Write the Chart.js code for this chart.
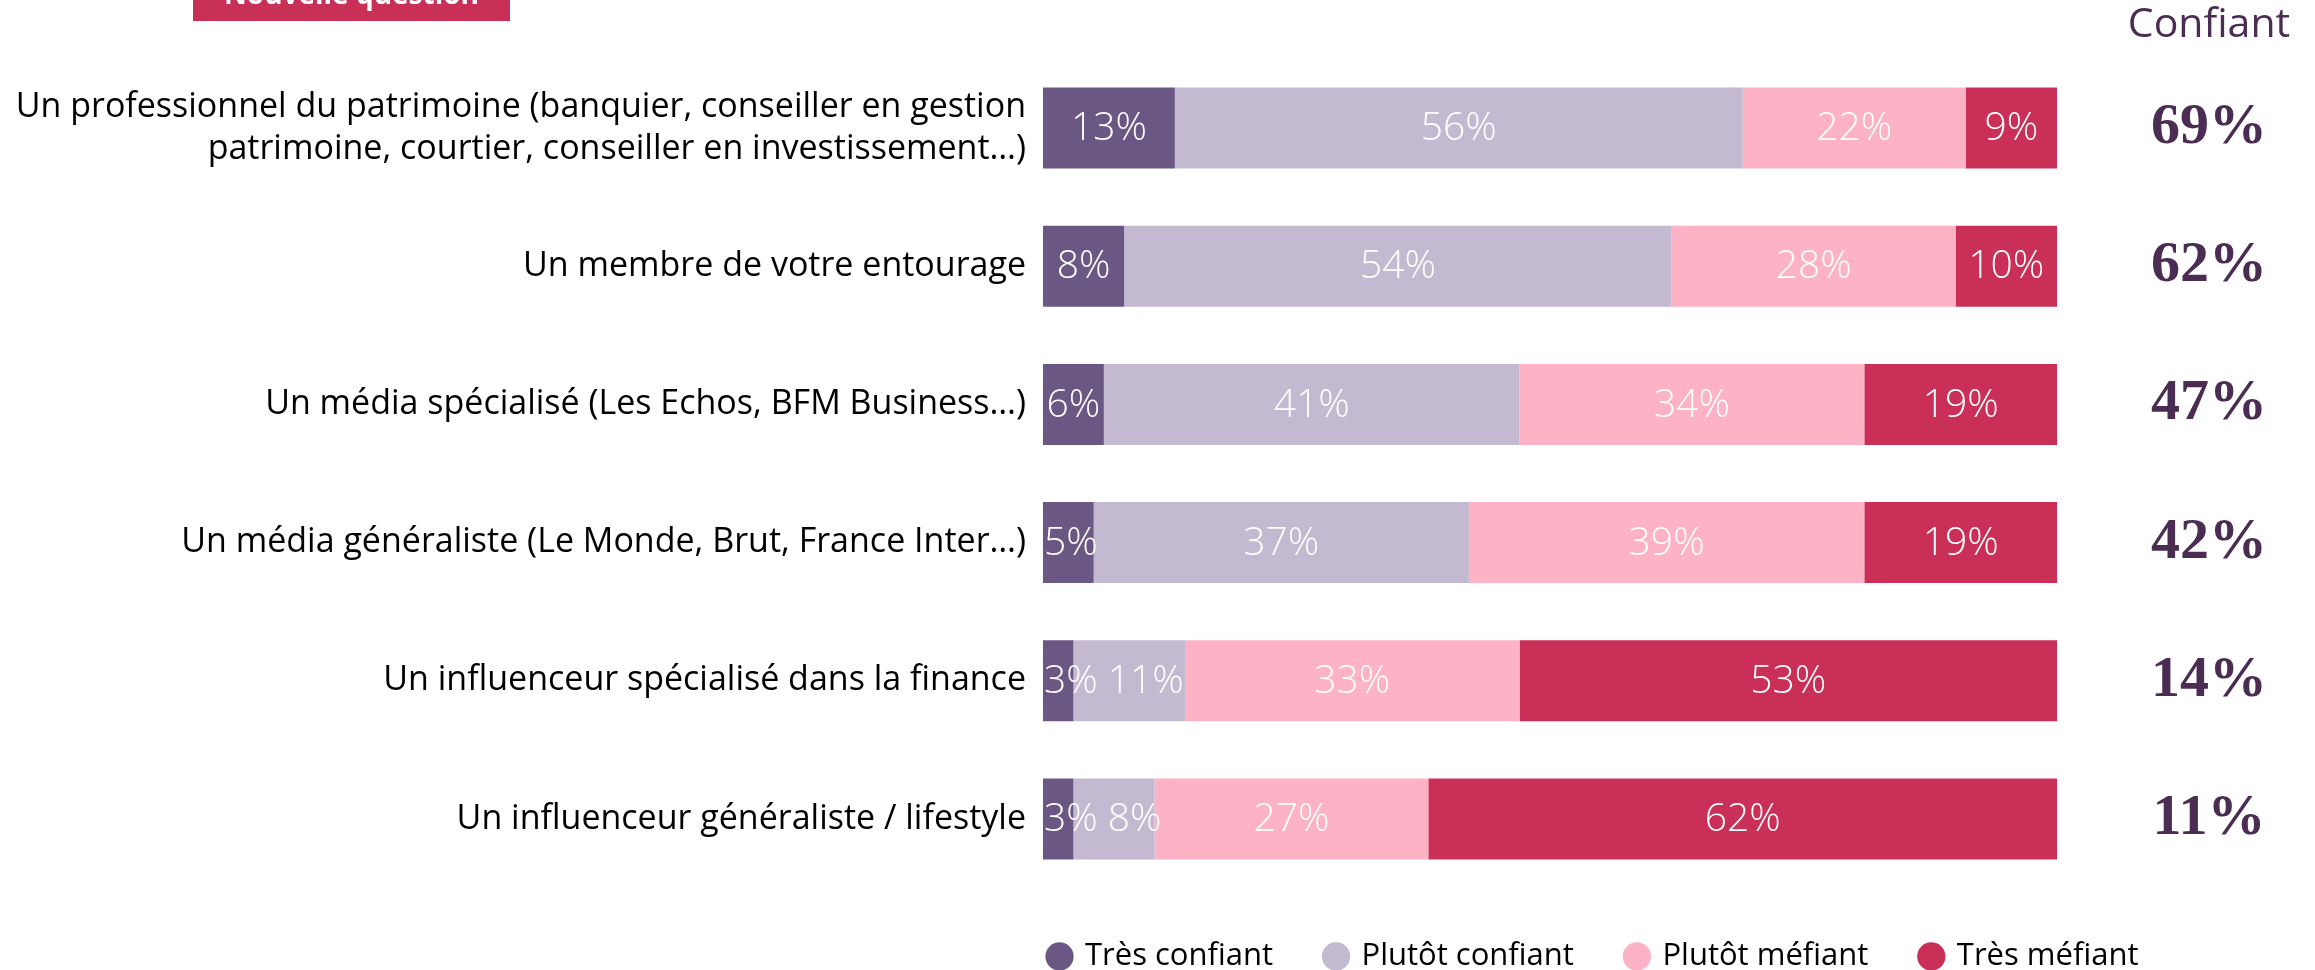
<!DOCTYPE html>
<html><head><meta charset="utf-8">
<script src="https://cdn.jsdelivr.net/npm/chart.js@4.4.1/dist/chart.umd.min.js"></script>
<style>
html,body{margin:0;padding:0;background:#fff;overflow:hidden;}
#wrap{position:relative;width:2315px;height:982px;}
</style></head><body>
<div id="wrap"><canvas id="c"></canvas></div>
<script>
const categories = [
  ["Un professionnel du patrimoine (banquier, conseiller en gestion", "patrimoine, courtier, conseiller en investissement…)"],
  "Un membre de votre entourage",
  "Un média spécialisé (Les Echos, BFM Business…)",
  "Un média généraliste (Le Monde, Brut, France Inter…)",
  "Un influenceur spécialisé dans la finance",
  "Un influenceur généraliste / lifestyle"
];
const seriesNames = ["Très confiant", "Plutôt confiant", "Plutôt méfiant", "Très méfiant"];
const tresConfiant   = [13, 8, 6, 5, 3, 3];
const plutotConfiant = [56, 54, 41, 37, 11, 8];
const plutotMefiant  = [22, 28, 34, 39, 33, 27];
const tresMefiant    = [9, 10, 19, 19, 53, 62];
const confiantTotals = [69, 62, 47, 42, 14, 11];
const headerText = "Confiant";
const badgeText = "Nouvelle question";

const colors = ["#6a5783", "#c3b9d1", "#fdb3c5", "#ca2f57"];
const seriesValues = [tresConfiant, plutotConfiant, plutotMefiant, tresMefiant];

const TOTAL_FONT = {family: '"Liberation Serif", serif', size: 58, weight: 'bold'};
const TOTAL_PAD = 94;
const LEGEND_CENTER_X = 1594;

const barLabels = {
  id: 'barLabels',
  afterDatasetsDraw(chart) {
    const ctx = chart.ctx, area = chart.chartArea;
    ctx.save();
    ctx.font = '300 39px "Open Sans"';
    ctx.fillStyle = '#ffffff';
    ctx.textBaseline = 'middle';
    ctx.textAlign = 'left';
    const n = chart.data.labels.length;
    for (let i = 0; i < n; i++) {
      let prevRight = -Infinity;
      chart.data.datasets.forEach((ds, d) => {
        const meta = chart.getDatasetMeta(d);
        const el = meta.data[i];
        if (!el) return;
        const txt = ds.data[i] + '%';
        const w = ctx.measureText(txt).width;
        let left = (el.x + el.base) / 2 - w / 2;
        if (left < area.left + 1) left = area.left + 1;
        if (left < prevRight + 10) left = prevRight + 10;
        ctx.fillText(txt, left, el.y + 1);
        prevRight = left + w;
      });
    }
    ctx.restore();
  }
};

const decorations = {
  id: 'decorations',
  afterLayout(chart) {
    const lg = chart.legend;
    if (lg) {
      const shift = LEGEND_CENTER_X - (lg.left + lg.right) / 2;
      lg.left += shift; lg.right += shift;
    }
  },
  afterDraw(chart) {
    const ctx = chart.ctx;
    const s = chart.scales.yR;
    ctx.save();
    ctx.font = TOTAL_FONT.weight + ' ' + TOTAL_FONT.size + 'px ' + TOTAL_FONT.family;
    let widest = 0;
    s.getLabels().forEach(l => { widest = Math.max(widest, ctx.measureText(l).width); });
    const cx = s.left + TOTAL_PAD + widest / 2;
    ctx.font = '41px "Open Sans"';
    ctx.fillStyle = '#4b2d54';
    ctx.textAlign = 'center';
    ctx.textBaseline = 'middle';
    ctx.fillText(headerText, cx, 25);
    // badge
    ctx.fillStyle = '#c93058';
    ctx.fillRect(193, -22, 317, 43);
    ctx.fillStyle = '#ffffff';
    ctx.font = 'bold 28px "Open Sans"';
    ctx.textBaseline = 'alphabetic';
    ctx.fillText(badgeText, 351.5, 4);
    ctx.restore();
  }
};

function noVerticalPadding(scale) {
  scale.paddingTop = 0;
  scale.paddingBottom = 0;
}

new Chart(document.getElementById('c'), {
  type: 'bar',
  data: {
    labels: categories,
    datasets: seriesNames.map((name, k) => ({
      label: name,
      data: seriesValues[k],
      backgroundColor: colors[k],
      borderWidth: 0,
      barPercentage: 0.5865,
      categoryPercentage: 1
    }))
  },
  options: {
    indexAxis: 'y',
    responsive: true,
    maintainAspectRatio: false,
    animation: false,
    layout: {padding: {top: 59, bottom: 0, left: 0, right: 0}},
    scales: {
      x: {stacked: true, min: 0, max: 100, display: false},
      y: {
        stacked: true,
        grid: {display: false, drawTicks: false},
        border: {display: false},
        ticks: {
          color: '#000000',
          padding: 17,
          font: {family: '"Open Sans"', size: 34, lineHeight: 1.24}
        },
        afterFit(scale) { scale.width = 1043; noVerticalPadding(scale); }
      },
      yR: {
        type: 'category',
        position: 'right',
        labels: confiantTotals.map(v => v + '%'),
        offset: true,
        grid: {display: false, drawTicks: false},
        border: {display: false},
        ticks: {
          color: '#4b2d54',
          crossAlign: 'center',
          padding: TOTAL_PAD,
          font: TOTAL_FONT
        },
        afterFit(scale) { scale.width = 258; noVerticalPadding(scale); }
      }
    },
    plugins: {
      tooltip: {enabled: false},
      title: {display: false},
      legend: {
        position: 'bottom',
        fullSize: true,
        align: 'center',
        labels: {
          usePointStyle: true,
          pointStyle: 'circle',
          boxWidth: 20,
          boxHeight: 20,
          padding: 53,
          color: '#000000',
          font: {family: '"Open Sans"', size: 31}
        }
      }
    }
  },
  plugins: [barLabels, decorations]
});
</script>
</body></html>
